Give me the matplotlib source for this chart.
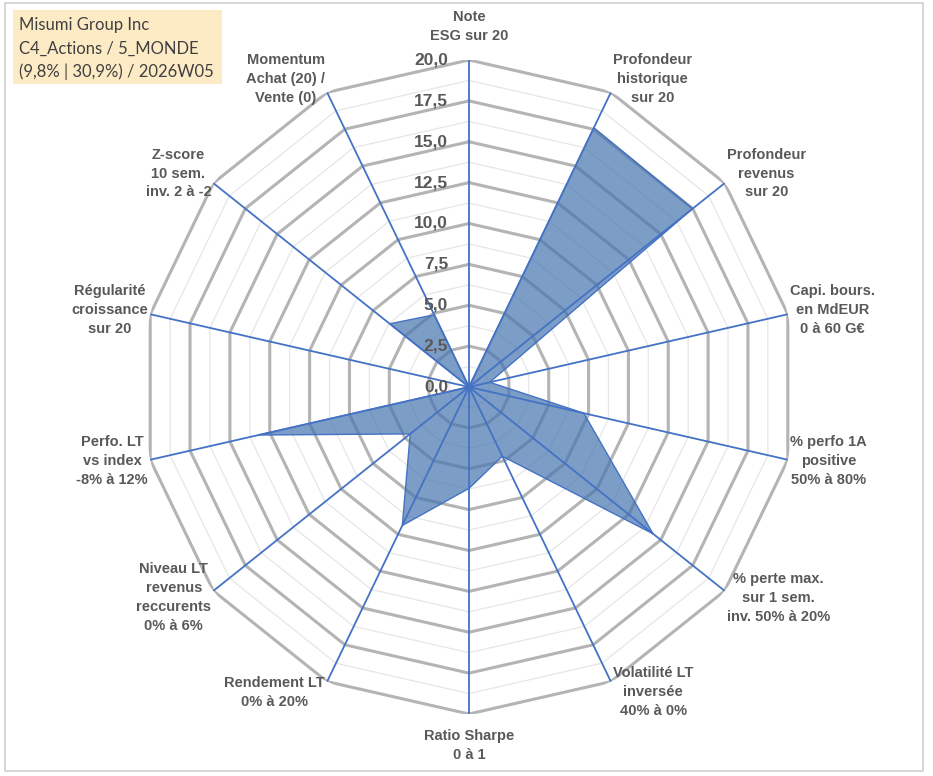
import numpy as np
import matplotlib
matplotlib.use("Agg")
import matplotlib.pyplot as plt
from matplotlib.patches import Rectangle

labels = [
    "Note\nESG sur 20",
    "Profondeur\nhistorique\nsur 20",
    "Profondeur\nrevenus\nsur 20",
    "Capi. bours.\nen MdEUR\n0 à 60 G€",
    "% perfo 1A\npositive\n50% à 80%",
    "% perte max.\nsur 1 sem.\ninv. 50% à 20%",
    "Volatilité LT\ninversée\n40% à 0%",
    "Ratio Sharpe\n0 à 1",
    "Rendement LT\n0% à 20%",
    "Niveau LT\nrevenus\nreccurents\n0% à 6%",
    "Perfo. LT\nvs index\n-8% à 12%",
    "Régularité\ncroissance\nsur 20",
    "Z-score\n10 sem.\ninv. 2 à -2",
    "Momentum\nAchat (20) /\nVente (0)",
]
values = [0.0, 17.6, 17.5, 1.3, 7.2, 14.4, 4.7, 6.2, 9.4, 4.6, 13.2, 0.0, 6.2, 4.9]
major_ticks = [0, 2.5, 5, 7.5, 10, 12.5, 15, 17.5, 20]
minor_ticks = [1.25, 3.75, 6.25, 8.75, 11.25, 13.75, 16.25, 18.75]
title_lines = ["Misumi Group Inc", "C4_Actions / 5_MONDE", "(9,8% | 30,9%) / 2026W05"]

W, H = 933, 776
fig = plt.figure(figsize=(W / 100, H / 100), dpi=100)
fig.patch.set_facecolor("white")

# outer frame
fig.patches.append(Rectangle((5 / W, 1 - 771 / H), 918 / W, 768 / H, transform=fig.transFigure,
                             fill=False, edgecolor="#d0d0d0", linewidth=1.2))

cx, cy, R = 469, 387, 327
ax = fig.add_axes([(cx - R) / W, (H - cy - R) / H, 2 * R / W, 2 * R / H], projection="polar")
ax.set_theta_offset(np.pi / 2)
ax.set_theta_direction(-1)
ax.set_ylim(0, 20)
ax.grid(False)
ax.set_xticks([])
ax.set_yticks([])
ax.spines["polar"].set_visible(False)
ax.patch.set_alpha(0)

n = len(labels)
angles = np.arange(n) * 2 * np.pi / n
closed = np.append(angles, angles[0])

for r in minor_ticks:
    ax.plot(closed, [r] * (n + 1), color="#e6e6e6", lw=0.9, zorder=1)
for r in major_ticks[1:]:
    ax.plot(closed, [r] * (n + 1), color="#b4b4b4", lw=2.2, zorder=1)

vals = np.append(values, values[0])
ax.fill(closed, vals, color="#4574AF", alpha=0.7, zorder=2, lw=0)
ax.plot(closed, vals, color="#4472C4", lw=1.0, zorder=3)

for a in angles:
    ax.plot([a, a], [0, 20], color="#4472C4", lw=1.3, zorder=4)

for v in major_ticks:
    ax.annotate(f"{v:.1f}".replace(".", ","), xy=(0, v), xytext=(-15, 0), textcoords="offset points",
                ha="right", va="center", fontsize=12.5, fontweight="bold", color="#595959",
                family="Liberation Sans", zorder=5, annotation_clip=False)

lab_style = dict(fontsize=10.5, fontweight="bold", color="#595959", family="Liberation Sans",
                 linespacing=1.45, annotation_clip=False, textcoords="offset points")
for a, lab in zip(angles, labels):
    s, c = np.cos(a), np.sin(a)  # s: vertical component, c: horizontal component
    if abs(c) < 0.1:
        if s > 0:
            ax.annotate(lab, xy=(a, 20), xytext=(0, 12), ha="center", va="bottom", **lab_style)
        else:
            ax.annotate(lab, xy=(a, 20), xytext=(0, -11), ha="center", va="top", **lab_style)
    else:
        ha = "left" if c > 0 else "right"
        ax.annotate(lab, xy=(a, 20), xytext=(np.sign(c) * 1.5, 9.5 * s + 1), ha=ha, va="center",
                    multialignment="center", **lab_style)

# title box
fig.patches.append(Rectangle((13 / W, 1 - 84 / H), 209 / W, 74 / H, transform=fig.transFigure,
                             facecolor="#fdebc6", edgecolor="none"))
for i, line in enumerate(title_lines):
    fig.text(19 / W, 1 - (25 + 23.5 * i) / H, line, ha="left", va="center", fontsize=12,
             color="#404040", family="Lato")

fig.savefig("out.png", dpi=100)
